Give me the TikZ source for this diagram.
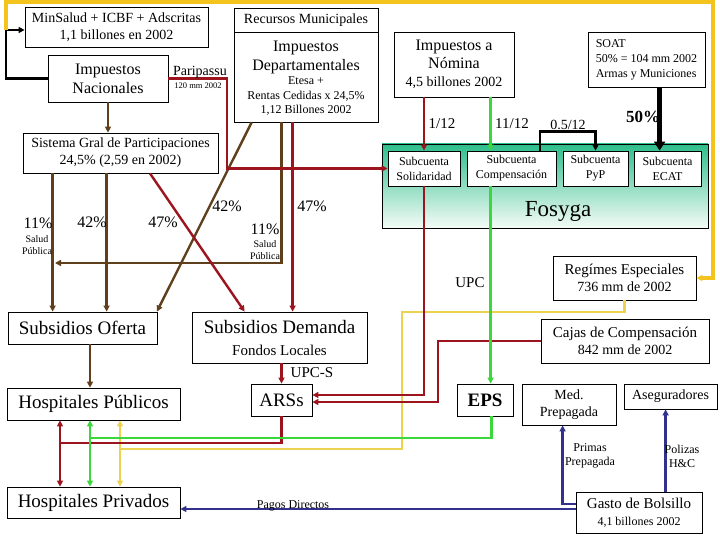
\documentclass[tikz,border=0pt]{standalone}
\usepackage{fontspec}
\setmainfont{Liberation Serif}
\usetikzlibrary{arrows.meta,calc}
\definecolor{cbrown}{RGB}{96,64,28}
\definecolor{cred}{RGB}{155,20,30}
\definecolor{cgreen}{RGB}{60,215,60}
\definecolor{cyel}{RGB}{245,195,30}
\definecolor{cyeltwo}{RGB}{235,210,80}
\definecolor{cblue}{RGB}{50,50,140}
\definecolor{fosyTop}{RGB}{45,190,140}
\definecolor{fosyBot}{RGB}{245,252,248}
\begin{document}
\begin{tikzpicture}[x=1pt,y=-1pt,
  box/.style={draw=black,line width=0.8pt,fill=white,inner sep=0pt,align=center},
  lbl/.style={inner sep=0pt,align=center},
  wire/.style={line width=2.4pt},
  tip/.style={-{Triangle[length=6pt,width=6pt]}},
  tips/.style={{Triangle[length=6pt,width=6pt]}-{Triangle[length=6pt,width=6pt]}},
  brn/.style={wire,draw=cbrown},
  rd/.style={wire,draw=cred},
  grn/.style={wire,draw=cgreen},
  yel/.style={line width=4.5pt,draw=cyel},
  yeltwo/.style={wire,draw=cyeltwo},
  blu/.style={wire,draw=cblue},
  blk/.style={line width=2.2pt,draw=black},
  blkthick/.style={line width=5pt,draw=black,-{Triangle[length=9pt,width=11pt]}}
]
\useasboundingbox (0,0) rectangle (720,540);
\fill[white] (0,0) rectangle (720,540);

% Fosyga background
\node[draw=black,line width=0.8pt,top color=fosyTop,bottom color=fosyBot,
      minimum width=326pt,minimum height=84pt,inner sep=0pt] (fosyga) at (545,186) {};
\node[lbl,font=\fontsize{23}{26}\selectfont] (tfos) at (558,211) {Fosyga};

% Boxes
\node[box,minimum width=183pt,minimum height=40pt,font=\fontsize{14}{17}\selectfont] (minsalud) at (116.5,27)
  {MinSalud + ICBF + Adscritas\\1,1 billones en 2002};
\node[box,minimum width=120pt,minimum height=47pt,font=\fontsize{16}{19}\selectfont] (nac) at (108,78.5)
  {Impuestos\\Nacionales};
\node[box,minimum width=144pt,minimum height=24pt,font=\fontsize{14}{17}\selectfont] (recmun) at (306,20)
  {Recursos Municipales};
\node[box,minimum width=144pt,minimum height=90pt] (impdep) at (306,77) {};
\node[lbl,font=\fontsize{16}{19}\selectfont] (tdepa) at (306,57) {Impuestos\\Departamentales};
\node[lbl,font=\fontsize{12}{14.5}\selectfont] (tdepb) at (306,96)
  {Etesa +\\Rentas Cedidas x 24,5\%\\1,12 Billones 2002};
\node[box,minimum width=120pt,minimum height=65pt,font=\fontsize{16}{18}\selectfont] (nomina) at (454,64.5)
  {Impuestos a\\Nómina\\{\fontsize{14}{17}\selectfont 4,5 billones 2002}};
\node[box,minimum width=117pt,minimum height=55pt,align=left,font=\fontsize{12}{15}\selectfont] (soat) at (646.5,59.5)
  {SOAT\\50\% = 104 mm 2002\\Armas y Municiones};
\node[box,minimum width=195pt,minimum height=40pt,font=\fontsize{14}{17}\selectfont] (sgp) at (120.5,153)
  {Sistema Gral de Participaciones\\24,5\% (2,59 en 2002)};
\node[box,minimum width=72pt,minimum height=35pt,font=\fontsize{12}{15}\selectfont] (solid) at (424,168.5)
  {Subcuenta\\Solidaridad};
\node[box,minimum width=89pt,minimum height=35pt,font=\fontsize{12}{15}\selectfont] (comp) at (511.5,168.5)
  {Subcuenta\\Compensación};
\node[box,minimum width=65pt,minimum height=35pt,font=\fontsize{12}{15}\selectfont] (pyp) at (595.5,168.5)
  {Subcuenta\\PyP};
\node[box,minimum width=67pt,minimum height=35pt,font=\fontsize{12}{15}\selectfont] (ecat) at (667.5,168.5)
  {Subcuenta\\ECAT};
\node[box,minimum width=143pt,minimum height=44pt,font=\fontsize{15}{17}\selectfont] (regimes) at (624.5,278)
  {Regímes Especiales\\{\fontsize{14}{17}\selectfont 736 mm de 2002}};
\node[box,minimum width=149pt,minimum height=32pt,font=\fontsize{19}{22}\selectfont] (oferta) at (82.5,328)
  {Subsidios Oferta};
\node[box,minimum width=175pt,minimum height=51pt,font=\fontsize{19}{22}\selectfont] (demanda) at (279.5,337.5)
  {Subsidios Demanda\\{\fontsize{15}{18}\selectfont Fondos Locales}};
\node[box,minimum width=168pt,minimum height=44pt,font=\fontsize{15}{17}\selectfont] (cajas) at (625,341)
  {Cajas de Compensación\\{\fontsize{14}{17}\selectfont 842 mm de 2002}};
\node[box,minimum width=173pt,minimum height=32pt,font=\fontsize{19}{22}\selectfont] (publicos) at (93.5,404)
  {Hospitales Públicos};
\node[box,minimum width=61pt,minimum height=32pt,font=\fontsize{19}{22}\selectfont] (ars) at (281.5,400)
  {ARSs};
\node[box,minimum width=56pt,minimum height=32pt,font=\fontsize{19}{22}\selectfont\bfseries] (eps) at (485,400)
  {EPS};
\node[box,minimum width=94pt,minimum height=41pt,font=\fontsize{14}{17}\selectfont] (medpre) at (569,404.5)
  {Med.\\Prepagada};
\node[box,minimum width=93pt,minimum height=25pt,font=\fontsize{14}{17}\selectfont] (aseg) at (670.5,396.5)
  {Aseguradores};
\node[box,minimum width=173pt,minimum height=31pt,font=\fontsize{19}{22}\selectfont] (privados) at (93.5,502.5)
  {Hospitales Privados};
\node[box,minimum width=126pt,minimum height=41pt,font=\fontsize{15}{17}\selectfont] (gasto) at (639,512.5)
  {Gasto de Bolsillo\\{\fontsize{12}{15}\selectfont 4,1 billones 2002}};

% Junction coordinates
\coordinate (yj) at (6,30);
\coordinate (pp) at (227,168.5);
\coordinate (bj) at (55,263);
\coordinate (cj) at (438,402);
\coordinate (rh) at (60,443);
\coordinate (gh) at (90,438);
\coordinate (yh) at (120,449);

% Black
\draw[blk,tip] (nac.west) -| (yj) |- ([yshift=-3pt]minsalud.west);
\draw[blk,tip] ([xshift=73pt]comp.north west) -- ++(0,-19) -| (pyp.north);
\draw[blkthick] ([xshift=72pt]soat.south west) -- ([xshift=26pt]ecat.north west);

% Yellow
\draw[yel,tip] (yj) -- (6,2.2) -- (713,2.2) |- (regimes.east);
\draw[yeltwo] (regimes.south) |- (402,312) |- (yh);
\draw[yeltwo,tips] (publicos.south -| yh) -- (privados.north -| yh);

% Brown
\draw[brn,tip] (nac.south) -- (nac.south |- sgp.north);
\draw[brn,tip] ([xshift=18pt]impdep.south west) -- ([xshift=-0.5pt]oferta.north east);
\draw[brn,tip] ([xshift=48pt]impdep.south west) |- (bj);
\draw[brn,tip] ([xshift=30pt]sgp.south west) -- ([xshift=45pt]oferta.north west);
\draw[brn,tip] ([xshift=84pt]sgp.south west) -- ([xshift=99pt]oferta.north west);
\draw[brn,tip] ([xshift=7.5pt]oferta.south) -- ([xshift=-3.5pt]publicos.north);

% Red
\draw[rd,tip] (nac.east) -| (pp) -- (solid.west);
\draw[rd,tip] ([xshift=59pt]impdep.south west) -- ([xshift=101pt]demanda.north west);
\draw[rd,tip] ([xshift=29.5pt]sgp.south) -- ([xshift=53pt]demanda.north west);
\draw[rd,tip] (nomina.south -| solid.north) -- (solid.north);
\draw[rd,tip] (solid.south) |- ([yshift=5pt]ars.east);
\draw[rd,tip] (cajas.west) -| (cj) -- ([yshift=-2pt]ars.east);
\draw[rd,tip] (demanda.south -| ars.north) -- (ars.north);
\draw[rd] (ars.south) |- (rh);
\draw[rd,tips] (publicos.south -| rh) -- (privados.north -| rh);

% Green
\draw[grn,tip] ([xshift=97pt]nomina.south west) -- ([xshift=24pt]comp.north west);
\draw[grn,tip] ([xshift=24pt]comp.south west) -- ([xshift=34pt]eps.north west);
\draw[grn] ([xshift=35pt]eps.south west) |- (gh);
\draw[grn,tips] (publicos.south -| gh) -- (privados.north -| gh);

% Blue
\draw[blu,tip] ([yshift=3.5pt]gasto.west) -- ([yshift=-6.5pt]privados.east);
\draw[blu,tip] ([yshift=8.5pt]gasto.west) -| ([xshift=41pt]medpre.south west);
\draw[blu,tip] ([xshift=90pt]gasto.north west) -- ([xshift=42pt]aseg.south west);

% Labels
\node[lbl,font=\fontsize{14}{16}\selectfont] (lpari) at (200,72) {Paripassu};
\node[lbl,font=\fontsize{8.5}{10}\selectfont] (lpmm) at (198,86) {120 mm 2002};
\node[lbl,font=\fontsize{16}{18}\selectfont] (la) at (38,223) {11\%};
\node[lbl,font=\fontsize{10}{11.5}\selectfont] (lb) at (37,245) {Salud\\Pública};
\node[lbl,font=\fontsize{16}{18}\selectfont] (lc) at (92,222) {42\%};
\node[lbl,font=\fontsize{16}{18}\selectfont] (ld) at (163,222) {47\%};
\node[lbl,font=\fontsize{16}{18}\selectfont] (le) at (227,206) {42\%};
\node[lbl,font=\fontsize{16}{18}\selectfont] (lf) at (312,206) {47\%};
\node[lbl,font=\fontsize{16}{18}\selectfont] (lg) at (265,229) {11\%};
\node[lbl,font=\fontsize{10}{12}\selectfont] (lh) at (265,250) {Salud\\Pública};
\node[lbl,font=\fontsize{15}{17}\selectfont] (li) at (442,124) {1/12};
\node[lbl,font=\fontsize{15}{17}\selectfont] (lj) at (512,124) {11/12};
\node[lbl,font=\fontsize{14}{16}\selectfont] (lk) at (568,125) {0.5/12};
\node[lbl,font=\fontsize{17}{19}\selectfont\bfseries] (ll) at (643,117) {50\%};
\node[lbl,font=\fontsize{15}{17}\selectfont] (lm) at (470,283) {UPC};
\node[lbl,font=\fontsize{15}{17}\selectfont] (ln) at (312,373) {UPC-S};
\node[lbl,font=\fontsize{12}{14}\selectfont] (lo) at (590,456) {Primas\\Prepagada};
\node[lbl,font=\fontsize{12}{14}\selectfont] (lp) at (682,456) {Polizas\\H\&C};
\node[lbl,font=\fontsize{12}{14}\selectfont] (lq) at (293,506) {Pagos Directos};
\end{tikzpicture}
\end{document}
